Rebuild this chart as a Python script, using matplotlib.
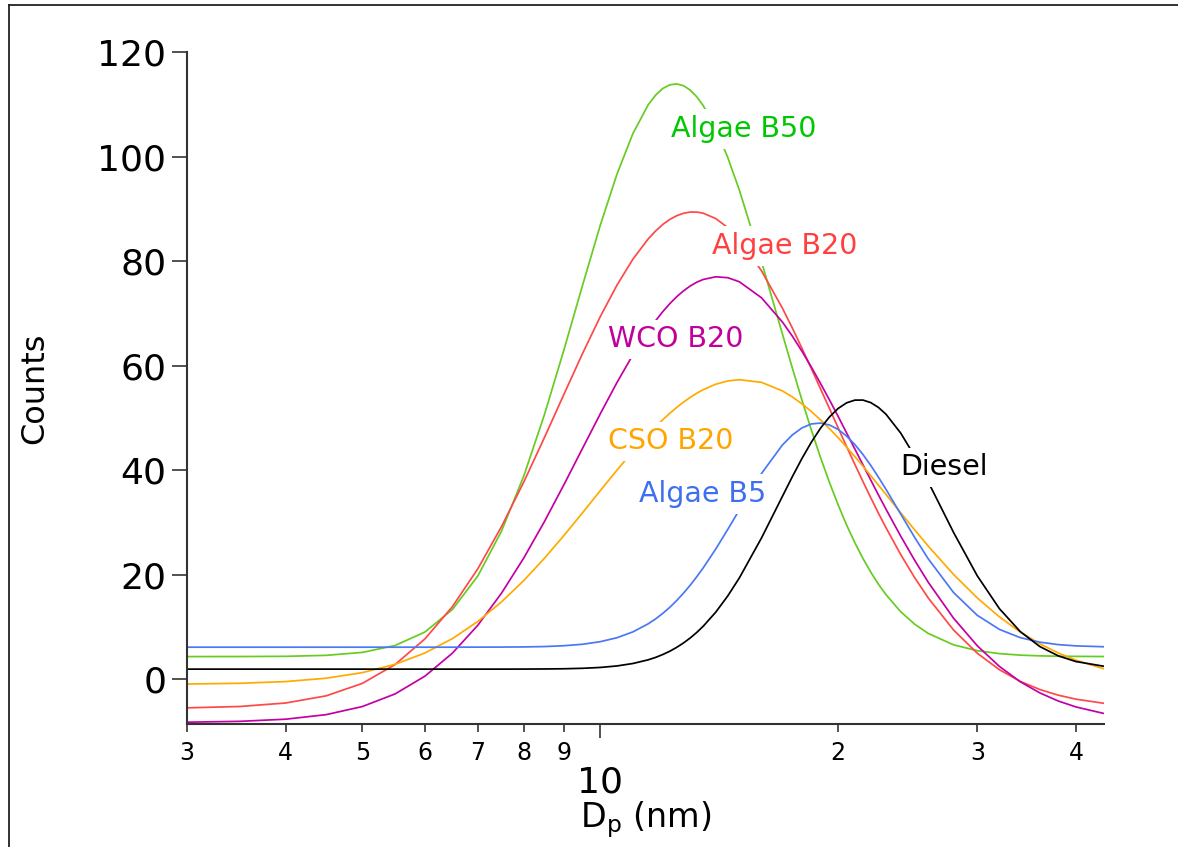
import matplotlib
matplotlib.use("Agg")
import matplotlib.pyplot as plt
from matplotlib.lines import Line2D
from matplotlib import ticker

plt.rcParams['font.family'] = ['DejaVu Sans']

# ---- data ----
diameter_nm = [3, 3.5, 4, 4.5, 5, 5.5, 6, 6.5, 7, 7.5,
               8, 8.5, 9, 9.5, 10, 10.5, 11, 11.5, 11.75, 12,
               12.25, 12.5, 12.75, 13, 13.25, 13.5, 14, 14.5, 15, 16,
               17, 17.5, 18, 18.5, 19, 19.5, 20, 20.5, 21, 21.5,
               22, 22.5, 23, 24, 25, 26, 28, 30, 32, 34,
               36, 38, 40, 43.4]

algae_b50 = [4.30, 4.31, 4.35, 4.54, 5.10, 6.42, 9.00, 13.31, 19.72, 28.30,
             38.77, 50.60, 63.07, 75.40, 86.80, 96.62, 104.40, 109.89, 111.74, 113.02,
             113.72, 113.89, 113.54, 112.70, 111.42, 109.75, 105.35, 99.83, 93.57, 79.87,
             66.09, 59.56, 53.38, 47.66, 42.40, 37.65, 33.35, 29.48, 26.09, 23.09,
             20.44, 18.12, 16.13, 12.89, 10.50, 8.74, 6.55, 5.43, 4.87, 4.58,
             4.44, 4.37, 4.34, 4.31]

algae_b20 = [-5.51, -5.25, -4.58, -3.21, -0.83, 2.77, 7.68, 13.85, 21.10, 29.17,
             37.65, 46.22, 54.54, 62.33, 69.34, 75.38, 80.36, 84.23, 85.74, 87.00,
             87.97, 88.68, 89.14, 89.37, 89.37, 89.15, 88.13, 86.40, 84.09, 78.12,
             71.00, 67.20, 63.30, 59.42, 55.55, 51.79, 48.09, 44.49, 41.08, 37.81,
             34.68, 31.71, 28.93, 23.84, 19.40, 15.54, 9.38, 4.95, 1.79, -0.44,
             -2.00, -3.09, -3.85, -4.64]

wco_b20 = [-8.25, -8.09, -7.68, -6.81, -5.26, -2.85, 0.55, 4.95, 10.29, 16.43,
           23.12, 30.14, 37.24, 44.18, 50.74, 56.75, 62.06, 66.59, 68.56, 70.31,
           71.85, 73.19, 74.30, 75.23, 75.95, 76.47, 76.98, 76.81, 76.03, 72.96,
           68.35, 65.64, 62.73, 59.70, 56.58, 53.44, 50.28, 47.10, 44.03, 41.01,
           38.06, 35.20, 32.48, 27.36, 22.72, 18.55, 11.64, 6.37, 2.42, -0.51,
           -2.65, -4.21, -5.34, -6.59]

cso_b20 = [-0.95, -0.81, -0.48, 0.16, 1.23, 2.82, 4.99, 7.73, 11.02, 14.76,
           18.83, 23.12, 27.50, 31.84, 36.04, 39.98, 43.59, 46.82, 48.28, 49.64,
           50.87, 52.00, 53.01, 53.91, 54.70, 55.38, 56.42, 57.05, 57.29, 56.78,
           55.15, 54.00, 52.67, 51.20, 49.60, 47.94, 46.19, 44.39, 42.57, 40.74,
           38.91, 37.09, 35.30, 31.82, 28.54, 25.46, 20.01, 15.53, 11.90, 9.00,
           6.74, 4.98, 3.60, 1.96]

algae_b5 = [6.10, 6.10, 6.10, 6.10, 6.10, 6.10, 6.10, 6.10, 6.11, 6.12,
            6.15, 6.22, 6.38, 6.66, 7.15, 7.91, 9.03, 10.57, 11.51, 12.57,
            13.74, 15.05, 16.46, 17.97, 19.59, 21.28, 24.87, 28.63, 32.38, 39.34,
            44.78, 46.71, 48.06, 48.82, 48.99, 48.63, 47.78, 46.49, 44.88, 42.98,
            40.87, 38.61, 36.28, 31.58, 27.10, 23.03, 16.55, 12.20, 9.50, 7.93,
            7.06, 6.59, 6.35, 6.18]

diesel = [1.90, 1.90, 1.90, 1.90, 1.90, 1.90, 1.90, 1.90, 1.90, 1.90,
          1.91, 1.93, 1.97, 2.06, 2.22, 2.51, 2.98, 3.68, 4.14, 4.70,
          5.33, 6.08, 6.92, 7.87, 8.93, 10.11, 12.79, 15.90, 19.36, 27.01,
          34.93, 38.71, 42.21, 45.33, 48.00, 50.15, 51.78, 52.86, 53.38, 53.39,
          52.90, 51.97, 50.66, 47.08, 42.65, 37.76, 28.05, 19.76, 13.47, 9.09,
          6.22, 4.43, 3.35, 2.45]

series_names = ["Algae B50", "Algae B20", "WCO B20", "CSO B20", "Algae B5", "Diesel"]
line_colors = ["#66cc22", "#ff4848", "#c400a4", "#ffaa00", "#4a78f5", "#000000"]
text_colors = ["#00c800", "#ff4040", "#c0009c", "#ffa500", "#3f6ff0", "#000000"]
label_pos = [(12.3, 105.3), (13.87, 82.9), (10.24, 65.0), (10.24, 45.5), (11.21, 35.4), (23.96, 40.5)]

y_ticks = [0, 20, 40, 60, 80, 100, 120]
x_major = [10]
x_major_labels = ["10"]
x_minor = [3, 4, 5, 6, 7, 8, 9, 20, 30, 40]
x_minor_labels = ["3", "4", "5", "6", "7", "8", "9", "2", "3", "4"]

# ---- figure ----
fig = plt.figure(figsize=(11.78, 8.47), dpi=100)
ax = fig.add_axes([187 / 1178, 1 - 724 / 847, (1104 - 187) / 1178, (724 - 52) / 847])

all_series = [algae_b50, algae_b20, wco_b20, cso_b20, algae_b5, diesel]
for vals, col in zip(all_series, line_colors):
    ax.plot(diameter_nm, vals, color=col, lw=1.25, zorder=2,
            solid_joinstyle='round', solid_capstyle='butt')

for name, col, (lx, ly) in zip(series_names, text_colors, label_pos):
    ax.text(lx, ly, name, color=col, fontsize=20.5, ha='left', va='center', zorder=5,
            bbox=dict(boxstyle='square,pad=0.2', facecolor='white', edgecolor='none'))

ax.set_xscale('log')
ax.set_xlim(3, 43.4)
ax.set_ylim(-8.6, 120)

spine_col = '#333333'
for side in ['top', 'right']:
    ax.spines[side].set_visible(False)
for side in ['left', 'bottom']:
    ax.spines[side].set_color(spine_col)
    ax.spines[side].set_linewidth(1.5)

ax.set_yticks(y_ticks)
ax.set_yticklabels([str(v) for v in y_ticks], fontsize=26)
ax.tick_params(axis='y', direction='out', length=11, width=1.2, color=spine_col, pad=4)

ax.xaxis.set_major_locator(ticker.FixedLocator(x_major))
ax.xaxis.set_minor_locator(ticker.FixedLocator(x_minor))
ax.xaxis.set_major_formatter(ticker.FixedFormatter(x_major_labels))
ax.xaxis.set_minor_formatter(ticker.FixedFormatter(x_minor_labels))
ax.tick_params(axis='x', which='major', direction='out', length=10, width=1.2,
               color=spine_col, labelsize=26, pad=20)
ax.tick_params(axis='x', which='minor', direction='out', length=6, width=1.2,
               color=spine_col, labelsize=17, pad=6)

ax.set_xlabel('D$_{\\mathrm{p}}$ (nm)', fontsize=24, va='center')
ax.xaxis.set_label_coords(0.5, (724 - 820) / 672)
ax.set_ylabel('Counts', fontsize=23, va='center')
ax.yaxis.set_label_coords((35 - 187) / 917, 0.5)

# frame around the figure (left and top edges visible)
fig.add_artist(Line2D([8.5 / 1178, 8.5 / 1178], [0, 1 - 5 / 847], color='#222222', lw=1.3,
                      transform=fig.transFigure))
fig.add_artist(Line2D([8.5 / 1178, 1], [1 - 5 / 847, 1 - 5 / 847], color='#222222', lw=1.3,
                      transform=fig.transFigure))

fig.savefig('out.png', dpi=100)
